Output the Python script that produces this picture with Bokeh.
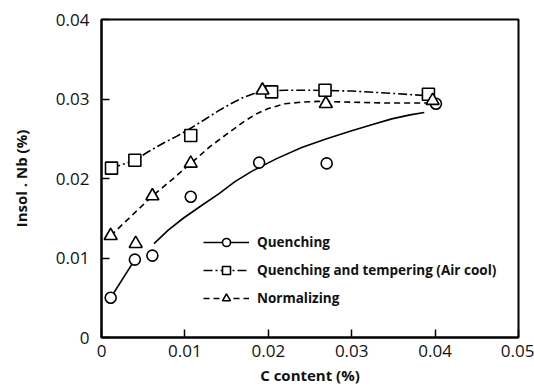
from bokeh.plotting import figure
from bokeh.models import FixedTicker, Legend, LegendItem, Range1d
from bokeh.embed import file_html
from bokeh.resources import INLINE

# Measured points: carbon content (%) vs insoluble Nb (%)
q_c = [0.0011, 0.0040, 0.0061, 0.0107, 0.0189, 0.0270, 0.0401]
q_nb = [0.0050, 0.0098, 0.0103, 0.0177, 0.0220, 0.0219, 0.0294]

qt_c = [0.0012, 0.0040, 0.0107, 0.0204, 0.0268, 0.0392]
qt_nb = [0.0213, 0.0223, 0.0254, 0.0309, 0.0311, 0.0306]

n_c = [0.0011, 0.0041, 0.0061, 0.0107, 0.0193, 0.0269, 0.0397]
n_nb = [0.0128, 0.0118, 0.0178, 0.0219, 0.0311, 0.0294, 0.0298]

# Hand-fitted trend curves
q_fit1_c = [0.0011, 0.0040]
q_fit1_nb = [0.0050, 0.0098]
q_fit2_c = [0.0063, 0.0080, 0.0098, 0.0120, 0.0141, 0.0160, 0.0180, 0.0210,
            0.0240, 0.0270, 0.0300, 0.0325, 0.0348, 0.0370, 0.0387]
q_fit2_nb = [0.0118, 0.0135, 0.0150, 0.0166, 0.0181, 0.0196, 0.0209, 0.0225,
             0.0239, 0.0250, 0.0260, 0.0268, 0.0275, 0.0280, 0.0283]

qt_fit_c = [0.0012, 0.0040, 0.0055, 0.0075, 0.0090, 0.0105, 0.0122, 0.0140, 0.0155,
            0.0170, 0.0183, 0.0195, 0.0220, 0.0250, 0.0300, 0.0350, 0.0392]
qt_fit_nb = [0.0213, 0.0223, 0.0233, 0.0245, 0.0253, 0.0262, 0.0273, 0.0285, 0.0294,
             0.0302, 0.0307, 0.0310, 0.0311, 0.0311, 0.0310, 0.0307, 0.0304]

n_fit_c = [0.0011, 0.0061, 0.0085, 0.0107, 0.0130, 0.0153, 0.0170, 0.0185,
           0.0200, 0.0220, 0.0240, 0.0260, 0.0300, 0.0340, 0.0395]
n_fit_nb = [0.0128, 0.0178, 0.0199, 0.0219, 0.0240, 0.0258, 0.0271, 0.0281,
            0.0288, 0.0294, 0.0296, 0.0297, 0.0296, 0.0295, 0.0295]

x_ticks = [0, 0.01, 0.02, 0.03, 0.04, 0.05]
x_tick_labels = ["0", "0.01", "0.02", "0.03", "0.04", "0.05"]
y_ticks = [0, 0.01, 0.02, 0.03, 0.04]
y_tick_labels = ["0", "0.01", "0.02", "0.03", "0.04"]

FONT = "Open Sans"

p = figure(width=534, height=392, output_backend="svg", toolbar_location=None,
           x_range=Range1d(0, 0.05), y_range=Range1d(0, 0.04),
           min_border_left=101, min_border_right=16, min_border_top=19, min_border_bottom=55)
p.background_fill_color = "white"
p.border_fill_color = "white"
p.outline_line_color = "black"
p.outline_line_width = 2
p.xgrid.visible = False
p.ygrid.visible = False

for ax, ticks, labels in ((p.xaxis[0], x_ticks, x_tick_labels), (p.yaxis[0], y_ticks, y_tick_labels)):
    ax.ticker = FixedTicker(ticks=ticks)
    ax.major_label_overrides = {t: l for t, l in zip(ticks, labels)}
    ax.minor_tick_line_color = None
    ax.major_tick_in = 8
    ax.major_tick_out = 0
    ax.major_tick_line_width = 1.5
    ax.axis_line_width = 2
    ax.major_label_text_font = FONT
    ax.major_label_text_font_size = "17px"
    ax.major_label_text_font_style = "normal"
    ax.major_label_text_color = "#111111"
    ax.axis_label_text_font = FONT
    ax.axis_label_text_font_size = "15px"
    ax.axis_label_text_font_style = "bold"
    ax.axis_label_text_color = "#111111"

p.xaxis.axis_label = "C content (%)"
p.xaxis.major_label_standoff = 7
p.xaxis.axis_label_standoff = 5
p.yaxis.axis_label = "Insol . Nb (%)"
p.yaxis.major_label_standoff = 12
p.yaxis.axis_label_standoff = 22

LW = 1.6

# Quenching: solid curve, open circles
q_l1 = p.line(q_fit1_c, q_fit1_nb, line_color="black", line_width=LW)
q_l2 = p.line(q_fit2_c, q_fit2_nb, line_color="black", line_width=LW)
# Quenching and tempering: dash-dot curve, open squares
qt_l = p.line(qt_fit_c, qt_fit_nb, line_color="black", line_width=LW, line_dash="9 3 2 3")
# Normalizing: dashed curve, open triangles
n_l = p.line(n_fit_c, n_fit_nb, line_color="black", line_width=LW, line_dash="6 4")

q_m = p.scatter(q_c, q_nb, marker="circle", size=11, fill_color="white",
                line_color="black", line_width=LW)
qt_m = p.scatter(qt_c, qt_nb, marker="square", size=12, fill_color="white",
                 line_color="black", line_width=LW)
n_m = p.scatter(n_c, n_nb, marker="triangle", size=13, fill_color="white",
                line_color="black", line_width=LW)

legend = Legend(items=[
    LegendItem(label="Quenching", renderers=[q_l2, q_m]),
    LegendItem(label="Quenching and tempering (Air cool)", renderers=[qt_l, qt_m]),
    LegendItem(label="Normalizing", renderers=[n_l, n_m]),
], location=(102, 29))
legend.border_line_alpha = 0
legend.background_fill_alpha = 0
legend.padding = 0
legend.margin = 0
legend.spacing = 8
legend.glyph_width = 46
legend.glyph_height = 20
legend.label_standoff = 8
legend.label_text_font = FONT
legend.label_text_font_size = "13.5px"
legend.label_text_font_style = "bold"
legend.label_text_color = "#111111"
legend.label_height = 20
p.add_layout(legend, "center")

open("out.html", "w").write(file_html(p, INLINE))
